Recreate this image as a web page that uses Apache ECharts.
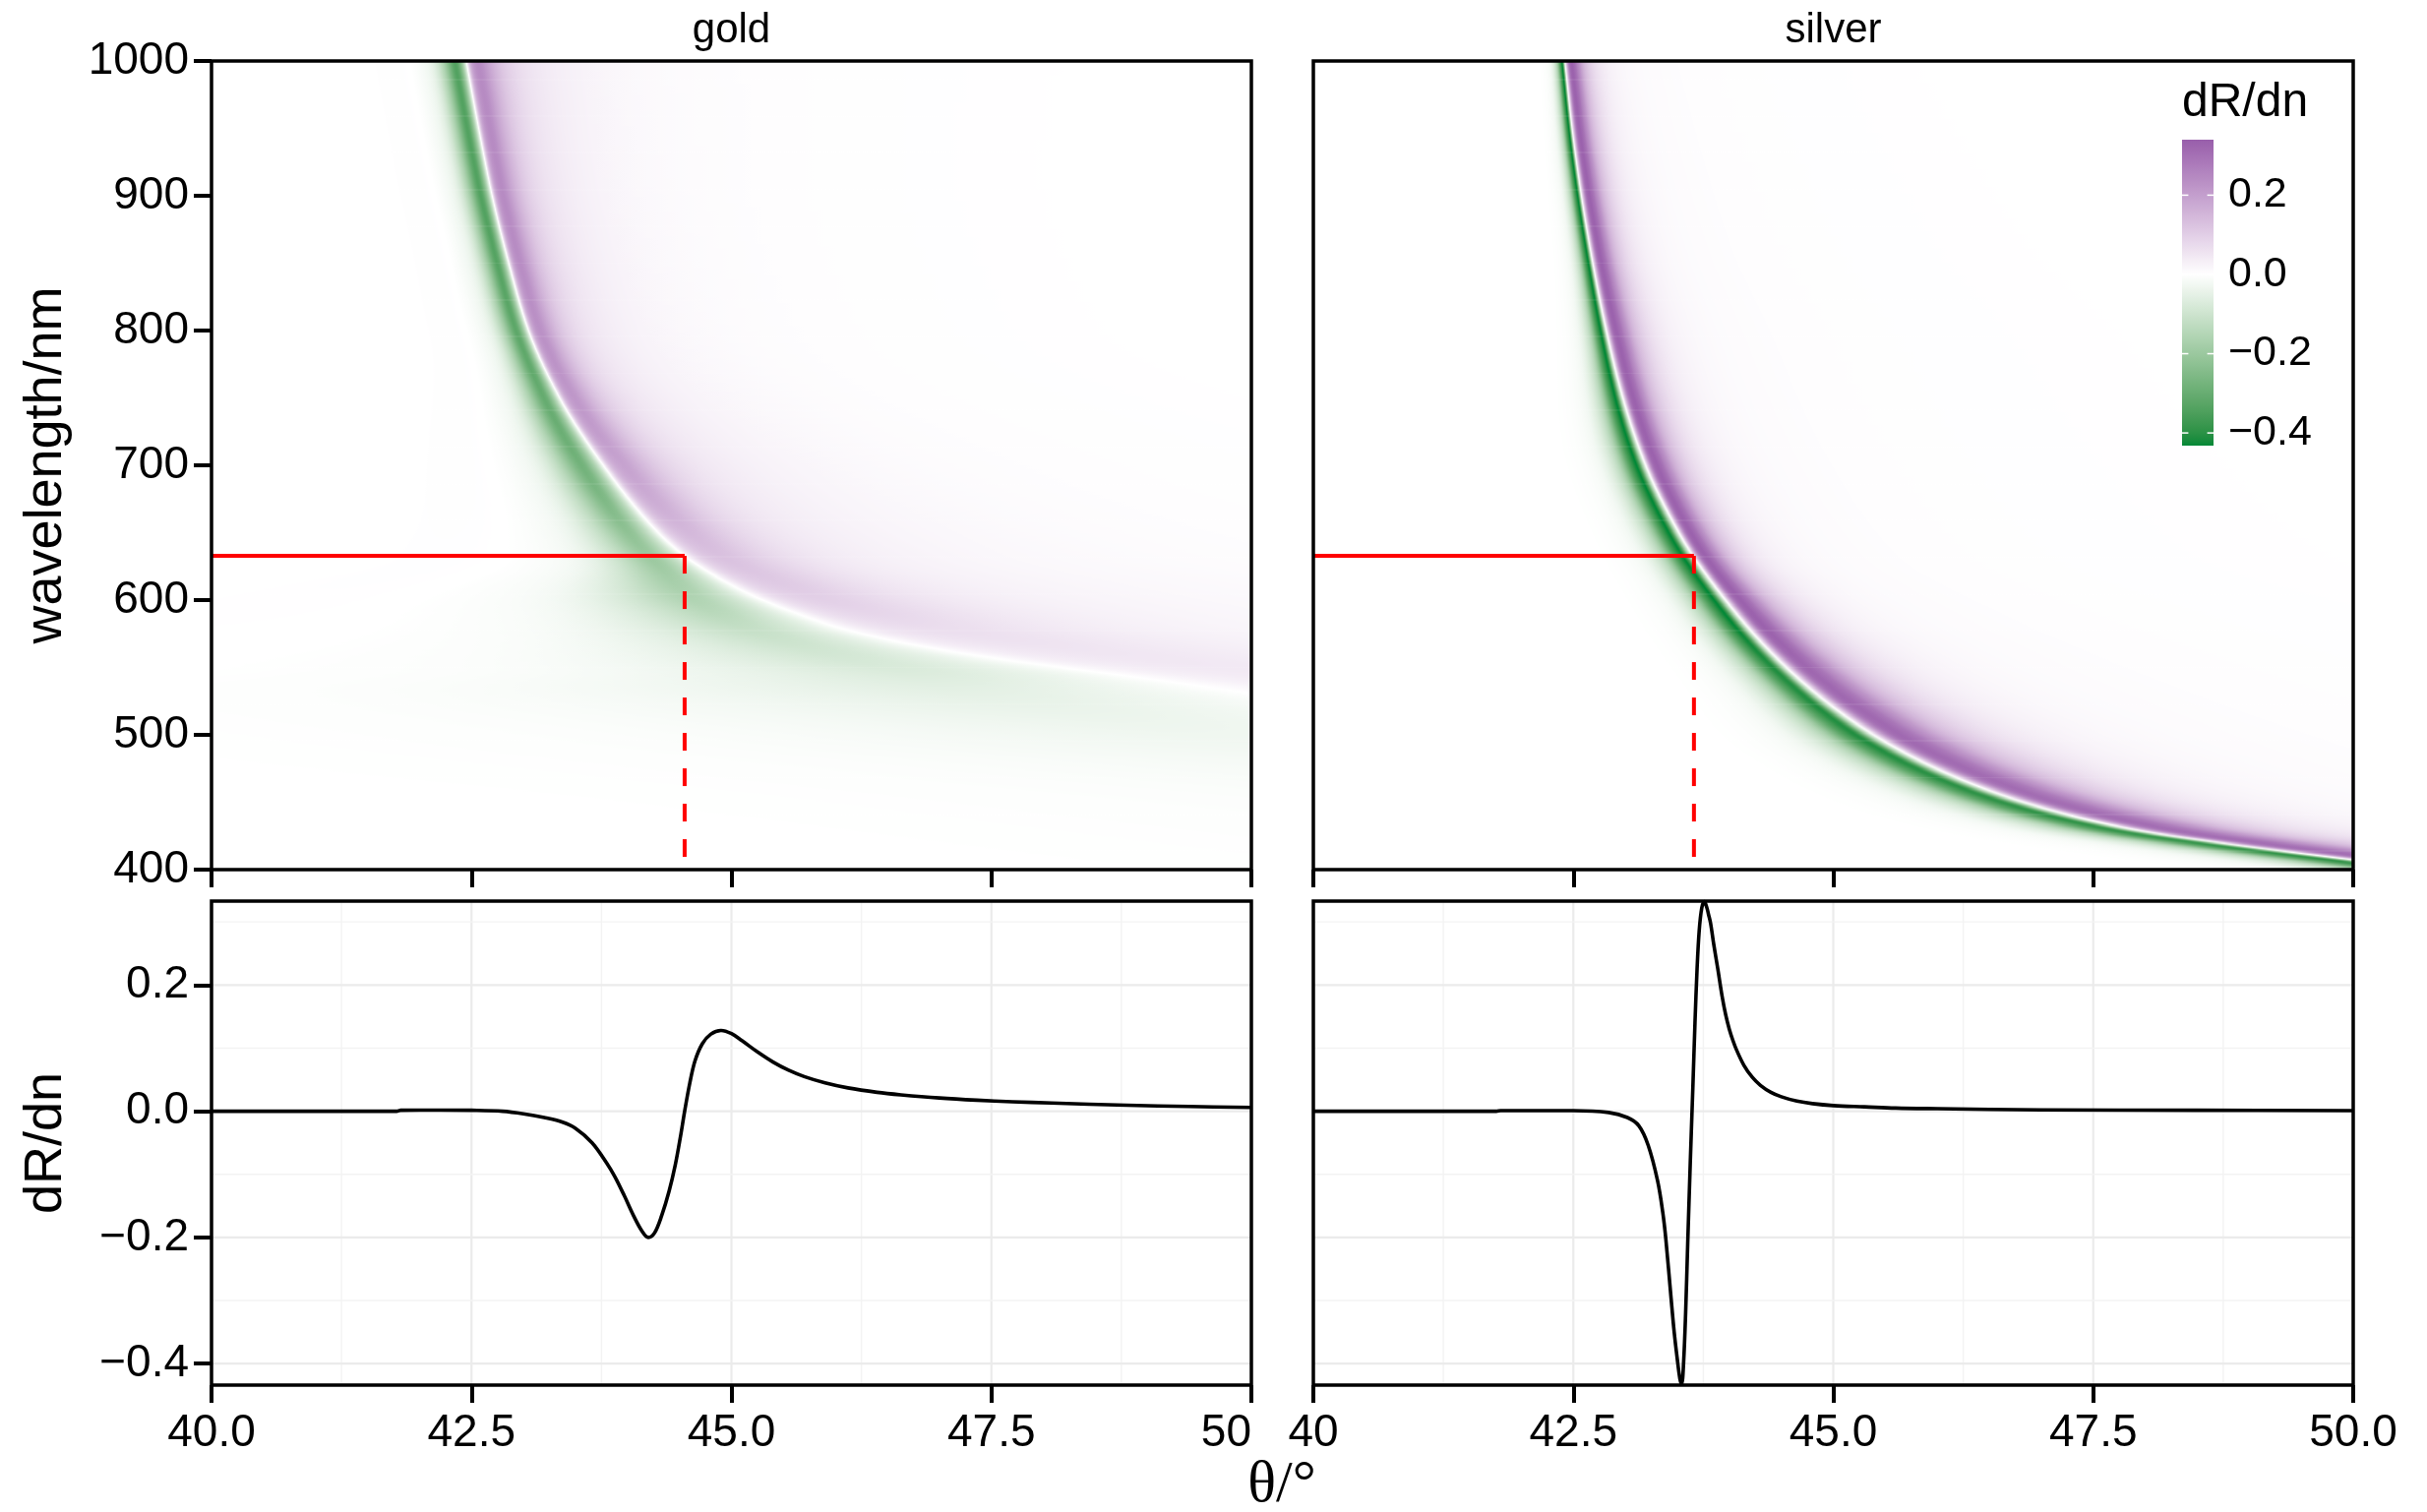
<!DOCTYPE html>
<html>
<head>
<meta charset="utf-8">
<script src="https://cdn.jsdelivr.net/npm/echarts@6/dist/echarts.min.js"></script>
<style>
html, body { margin: 0; padding: 0; background: #ffffff; }
#chart { width: 2467px; height: 1537px; }
</style>
</head>
<body>
<div id="chart"></div>
<script>
// ===================== values =====================
const panelNames = ['gold', 'silver'];
const thetaTicks = [40, 42.5, 45, 47.5, 50];
const leftThetaLabels = ['40.0', '42.5', '45.0', '47.5', '50'];
const rightThetaLabels = ['40', '42.5', '45.0', '47.5', '50.0'];
const wavelengthTicks = [400, 500, 600, 700, 800, 900, 1000];
const drdnTicks = [-0.4, -0.2, 0.0, 0.2];
const drdnMinorTicks = [-0.3, -0.1, 0.1, 0.3];
const thetaMinorTicks = [41.25, 43.75, 46.25, 48.75];
const thetaRange = [40, 50];
const wavelengthRange = [400, 1000];
const drdnRange = [-0.434, 0.333];      // lower panels
const fillLimits = [-0.432, 0.34];      // colour bar

// laser line (red guides)
const laserWavelength = 632.8;
const goldLaserAngle = 44.55;
const silverLaserAngle = 43.66;

// lower panels: dR/dn versus angle at 633 nm
const goldTheta = [40.0, 40.5, 41.0, 41.5, 41.78, 41.82, 42.2, 42.5, 42.8, 43.0, 43.2, 43.37, 43.5, 43.66, 43.8, 43.88, 43.97, 44.06, 44.14, 44.2, 44.26, 44.33, 44.4, 44.46, 44.51, 44.55, 44.6, 44.65, 44.72, 44.8, 44.9, 45.0, 45.1, 45.25, 45.4, 45.55, 45.7, 45.9, 46.12, 46.4, 46.63, 47.0, 47.36, 47.7, 48.08, 48.8, 49.4, 50.0];
const goldDRdn = [0, 0, 0, 0, 0, 0.0015, 0.0018, 0.0015, 0.0, -0.004, -0.01, -0.017, -0.027, -0.05, -0.082, -0.104, -0.134, -0.166, -0.19, -0.2, -0.193, -0.165, -0.127, -0.085, -0.04, 0, 0.045, 0.08, 0.107, 0.122, 0.128, 0.123, 0.112, 0.094, 0.078, 0.065, 0.055, 0.045, 0.037, 0.03, 0.026, 0.021, 0.0175, 0.015, 0.013, 0.0095, 0.0075, 0.006];

const silverTheta = [40.0, 41.0, 41.76, 41.8, 42.5, 42.84, 43.02, 43.13, 43.22, 43.31, 43.36, 43.39, 43.44, 43.47, 43.5, 43.525, 43.542, 43.56, 43.58, 43.6, 43.625, 43.65, 43.67, 43.69, 43.71, 43.735, 43.76, 43.785, 43.8, 43.82, 43.85, 43.89, 43.93, 43.965, 44.0, 44.035, 44.07, 44.14, 44.22, 44.3, 44.4, 44.5, 44.65, 44.8, 45.0, 45.3, 45.6, 46.0, 47.0, 48.5, 50.0];
const silverDRdn = [0, 0, 0, 0.001, 0.001, -0.002, -0.01, -0.023, -0.054, -0.11, -0.16, -0.203, -0.296, -0.35, -0.393, -0.424, -0.432, -0.4, -0.32, -0.21, -0.08, 0.04, 0.14, 0.225, 0.285, 0.322, 0.332, 0.322, 0.312, 0.298, 0.265, 0.225, 0.183, 0.153, 0.13, 0.112, 0.097, 0.073, 0.054, 0.041, 0.03, 0.023, 0.016, 0.012, 0.009, 0.007, 0.005, 0.004, 0.002, 0.0015, 0.001];

// upper panels: angle of the white zero line (resonance) per wavelength
// (entries past 50 degrees are estimates of where the line continues off the frame)
const goldLineWl    = [400, 450, 500, 520, 531, 538, 544, 550, 556, 563, 571, 580, 590, 603, 617, 633, 650, 700, 750, 800, 850, 900, 950, 1000];
const goldLineTheta = [63.0, 58.0, 53.0, 51.0, 50.0, 49.35, 48.8, 48.2, 47.62, 47.05, 46.5, 46.02, 45.64, 45.22, 44.87, 44.55, 44.3, 43.77, 43.35, 43.05, 42.86, 42.7, 42.57, 42.45];
const silverLineWl    = [400, 410, 420, 430, 450, 470, 490, 510, 540, 570, 600, 633, 650, 700, 750, 800, 850, 900, 950, 1000];
const silverLineTheta = [50.8, 49.75, 48.75, 47.9, 46.85, 46.15, 45.62, 45.2, 44.7, 44.3, 43.97, 43.655, 43.52, 43.2, 42.98, 42.82, 42.69, 42.58, 42.49, 42.42];

// upper panels: band width and strength per wavelength, relative to the 633 nm slice
const goldBandWl       = [400, 450, 500, 530, 550, 575, 600, 633, 700, 800, 900, 1000];
const goldGreenWidth   = [14, 12, 10, 8, 5, 2.9, 1.95, 1, 0.62, 0.35, 0.32, 0.32];
const goldPurpleWidth  = [14, 12, 10, 7, 4.5, 2.8, 1.7, 1, 0.55, 0.32, 0.3, 0.32];
const goldGreenAmp     = [0.03, 0.06, 0.15, 0.25, 0.38, 0.55, 0.78, 1.0, 1.4, 1.6, 1.7, 1.7];
const goldPurpleAmp    = [0.1, 0.15, 0.2, 0.3, 0.35, 0.5, 0.75, 1.0, 1.5, 1.8, 1.9, 1.9];
const silverBandWl      = [400, 420, 460, 500, 540, 590, 633, 710, 800, 856, 930, 1000];
const silverGreenWidth  = [2.6, 2.4, 2.0, 1.7, 1.35, 1.12, 1.0, 0.85, 0.55, 0.42, 0.34, 0.28];
const silverPurpleWidth = [3.4, 3.2, 2.6, 2.2, 1.8, 1.3, 1.0, 0.9, 0.8, 0.7, 0.62, 0.55];
const silverGreenAmp    = [0.9, 0.9, 0.92, 0.95, 0.95, 1.0, 1.0, 1.0, 1.0, 1.0, 1.0, 1.0];
const silverPurpleAmp   = [0.92, 0.92, 0.93, 0.95, 0.96, 1.0, 1.0, 1.0, 1.0, 1.0, 1.0, 1.0];

// colours
const lowColour = '#008837', midColour = '#ffffff', highColour = '#7b3294';
const guideColour = '#ff0000';

// ===================== helpers =====================
const FONT = '"Liberation Sans", Arial, Helvetica, sans-serif';
const SERIF = '"Liberation Serif", "DejaVu Serif", serif';

function pchip(xs, ys) {
  const n = xs.length, h = [], d = [], m = new Array(n);
  for (let i = 0; i < n - 1; i++) { h[i] = xs[i + 1] - xs[i]; d[i] = (ys[i + 1] - ys[i]) / h[i]; }
  m[0] = d[0]; m[n - 1] = d[n - 2];
  for (let i = 1; i < n - 1; i++) {
    if (d[i - 1] * d[i] <= 0) m[i] = 0;
    else { const w1 = 2 * h[i] + h[i - 1], w2 = h[i] + 2 * h[i - 1]; m[i] = (w1 + w2) / (w1 / d[i - 1] + w2 / d[i]); }
  }
  return function (x) {
    if (x <= xs[0]) return ys[0];
    if (x >= xs[n - 1]) return ys[n - 1];
    let lo = 0, hi = n - 1;
    while (hi - lo > 1) { const mid = (lo + hi) >> 1; if (xs[mid] <= x) lo = mid; else hi = mid; }
    const i = lo, t = (x - xs[i]) / h[i], t2 = t * t, t3 = t2 * t;
    return (2 * t3 - 3 * t2 + 1) * ys[i] + (t3 - 2 * t2 + t) * h[i] * m[i] + (-2 * t3 + 3 * t2) * ys[i + 1] + (t3 - t2) * h[i] * m[i + 1];
  };
}

function hexToRgb(hx) { return [parseInt(hx.slice(1, 3), 16), parseInt(hx.slice(3, 5), 16), parseInt(hx.slice(5, 7), 16)]; }
function rgbToLab(rgb) {
  const [r, g, b] = rgb.map(c => { c /= 255; return c <= 0.04045 ? c / 12.92 : Math.pow((c + 0.055) / 1.055, 2.4); });
  const X = (0.4124564 * r + 0.3575761 * g + 0.1804375 * b) / 0.95047;
  const Y = (0.2126729 * r + 0.7151522 * g + 0.0721750 * b);
  const Z = (0.0193339 * r + 0.1191920 * g + 0.9503041 * b) / 1.08883;
  const f = t => t > 216 / 24389 ? Math.cbrt(t) : (24389 / 27 * t + 16) / 116;
  const fx = f(X), fy = f(Y), fz = f(Z);
  return [116 * fy - 16, 500 * (fx - fy), 200 * (fy - fz)];
}
function labToRgb(lab) {
  const [L, a, b] = lab;
  const fy = (L + 16) / 116, fx = fy + a / 500, fz = fy - b / 200;
  const finv = t => { const t3 = t * t * t; return t3 > 216 / 24389 ? t3 : (116 * t - 16) / (24389 / 27); };
  const X = finv(fx) * 0.95047, Y = finv(fy), Z = finv(fz) * 1.08883;
  const r = 3.2404542 * X - 1.5371385 * Y - 0.4985314 * Z;
  const g = -0.9692660 * X + 1.8760108 * Y + 0.0415560 * Z;
  const bb = 0.0556434 * X - 0.2040259 * Y + 1.0572252 * Z;
  const comp = c => { c = c <= 0.0031308 ? 12.92 * c : 1.055 * Math.pow(c, 1 / 2.4) - 0.055; return Math.round(Math.min(1, Math.max(0, c)) * 255); };
  return [comp(r), comp(g), comp(bb)];
}

// diverging scale, white at zero (rescaled by the larger limit)
const colourLimit = Math.max(Math.abs(fillLimits[0]), Math.abs(fillLimits[1]));
const LUT_N = 2000;
const colourLut = (function () {
  const labLow = rgbToLab(hexToRgb(lowColour)), labMid = rgbToLab(hexToRgb(midColour)), labHigh = rgbToLab(hexToRgb(highColour));
  const out = [];
  for (let i = 0; i <= LUT_N; i++) {
    const v = -colourLimit + 2 * colourLimit * i / LUT_N;
    const t = Math.abs(v) / colourLimit, end = v < 0 ? labLow : labHigh;
    const rgb = labToRgb([0, 1, 2].map(k => labMid[k] + (end[k] - labMid[k]) * t));
    out.push('rgb(' + rgb[0] + ',' + rgb[1] + ',' + rgb[2] + ')');
  }
  return out;
})();
function colourOf(v) {
  let i = Math.round((v + colourLimit) / (2 * colourLimit) * LUT_N);
  if (i < 0) i = 0; if (i > LUT_N) i = LUT_N;
  return colourLut[i];
}

// map panel: the 633 nm slice shifted to the resonance line and scaled per wavelength
function makePanel(spec) {
  const slice = pchip(spec.sliceTheta, spec.sliceValue);
  const n = spec.sliceValue.length;
  const lastVal = spec.sliceValue[n - 1], lastTheta = spec.sliceTheta[n - 1];
  const template = x => {
    if (x <= thetaRange[0]) return 0;
    if (x >= lastTheta) { const q = (lastTheta - spec.theta0) / (x - spec.theta0); return lastVal * q * q; }
    return slice(x);
  };
  const res = pchip(spec.lineWl, spec.lineTheta);
  const wg = pchip(spec.bandWl, spec.greenWidth), wp = pchip(spec.bandWl, spec.purpleWidth);
  const ag = pchip(spec.bandWl, spec.greenAmp), ap = pchip(spec.bandWl, spec.purpleAmp);
  const dense = [];
  for (let o = spec.denseFrom; o <= spec.denseTo + 1e-9; o += spec.denseStep) dense.push(o);
  return {
    stops(wl) {
      const r = res(wl), g = wg(wl), p = wp(wl), A = ag(wl), B = ap(wl);
      const pts = [];
      for (let i = 0; i <= 100; i++) pts.push(thetaRange[0] + i * (thetaRange[1] - thetaRange[0]) / 100);
      for (const o of dense) {
        const th = r + (o < 0 ? o * g : o * p);
        if (th > thetaRange[0] && th < thetaRange[1]) pts.push(th);
      }
      pts.sort((a, b) => a - b);
      const stops = []; let last = -1;
      const span = thetaRange[1] - thetaRange[0];
      for (const th of pts) {
        const off = (th - thetaRange[0]) / span;
        if (off - last < 2e-5) continue;
        last = off;
        const u = th - r;
        const v = u < 0 ? template(spec.theta0 + u / g) * A : template(spec.theta0 + u / p) * B;
        stops.push({ offset: off, color: colourOf(v) });
      }
      return stops;
    }
  };
}

const goldPanel = makePanel({
  sliceTheta: goldTheta, sliceValue: goldDRdn, theta0: goldLaserAngle,
  lineWl: goldLineWl, lineTheta: goldLineTheta,
  bandWl: goldBandWl, greenWidth: goldGreenWidth, purpleWidth: goldPurpleWidth, greenAmp: goldGreenAmp, purpleAmp: goldPurpleAmp,
  denseFrom: -3, denseTo: 3.5, denseStep: 0.025
});
const silverPanel = makePanel({
  sliceTheta: silverTheta, sliceValue: silverDRdn, theta0: 43.645,
  lineWl: silverLineWl, lineTheta: silverLineTheta,
  bandWl: silverBandWl, greenWidth: silverGreenWidth, purpleWidth: silverPurpleWidth, greenAmp: silverGreenAmp, purpleAmp: silverPurpleAmp,
  denseFrom: -1.2, denseTo: 2.0, denseStep: 0.008
});

// evaluation rows for the maps
const rowStep = 0.75;
const mapRows = [];
for (let w = wavelengthRange[0] + rowStep / 2; w < wavelengthRange[1]; w += rowStep) mapRows.push([thetaRange[0], w]);

function mapSeries(panel, idx) {
  return {
    type: 'custom', xAxisIndex: idx, yAxisIndex: idx, silent: true, clip: true, z: 1,
    progressive: 0, animation: false,
    data: mapRows,
    renderItem: function (params, api) {
      const wl = api.value(1);
      const a = api.coord([thetaRange[0], wl + rowStep / 2]);
      const b = api.coord([thetaRange[1], wl - rowStep / 2]);
      return {
        type: 'rect', silent: true,
        shape: { x: a[0], y: a[1] - 0.35, width: b[0] - a[0], height: b[1] - a[1] + 0.7 },
        style: { fill: { type: 'linear', x: 0, y: 0, x2: 1, y2: 0, colorStops: panel.stops(wl) } }
      };
    }
  };
}

function guideSeries(idx, angle) {
  return [
    { type: 'line', xAxisIndex: idx, yAxisIndex: idx, silent: true, symbol: 'none', z: 5, animation: false,
      data: [[thetaRange[0], laserWavelength], [angle, laserWavelength]],
      lineStyle: { color: guideColour, width: 4, cap: 'butt' } },
    { type: 'line', xAxisIndex: idx, yAxisIndex: idx, silent: true, symbol: 'none', z: 5, animation: false,
      data: [[angle, laserWavelength], [angle, wavelengthRange[0]]],
      lineStyle: { color: guideColour, width: 4, type: [18, 18], cap: 'butt' } }
  ];
}

// light grid of the lower panels
const gridItems = [];
thetaTicks.slice(1, -1).forEach(v => gridItems.push([v, 0, 0]));
thetaMinorTicks.forEach(v => gridItems.push([v, 0, 1]));
drdnTicks.forEach(v => gridItems.push([45, v, 2]));
drdnMinorTicks.forEach(v => gridItems.push([45, v, 3]));
function gridSeries(idx) {
  return {
    type: 'custom', xAxisIndex: idx, yAxisIndex: idx, silent: true, z: 1, animation: false,
    data: gridItems,
    renderItem: function (params, api) {
      const kind = api.value(2);
      let a, b;
      if (kind < 2) { a = api.coord([api.value(0), drdnRange[0]]); b = api.coord([api.value(0), drdnRange[1]]); }
      else { a = api.coord([thetaRange[0], api.value(1)]); b = api.coord([thetaRange[1], api.value(1)]); }
      const major = (kind === 0 || kind === 2);
      return { type: 'line', silent: true, shape: { x1: a[0], y1: a[1], x2: b[0], y2: b[1] },
        style: { stroke: major ? '#ebebeb' : '#f3f3f3', lineWidth: major ? 2.2 : 1.4 } };
    }
  };
}

function curveSeries(idx, th, val) {
  return { type: 'line', xAxisIndex: idx, yAxisIndex: idx, silent: true, symbol: 'none', z: 4, animation: false,
    smooth: 0.35, clip: true,
    data: th.map((t, i) => [t, val[i]]),
    lineStyle: { color: '#000000', width: 3.6, join: 'round' } };
}

// colour bar
const cbStops = [];
for (let i = 0; i <= 100; i++) {
  const v = fillLimits[1] - (fillLimits[1] - fillLimits[0]) * i / 100;
  cbStops.push({ offset: i / 100, color: colourOf(v) });
}

const fmtSigned = v => (v < -1e-9 ? '\u2212' + Math.abs(v).toFixed(1) : Math.abs(v).toFixed(1));
const labelFor = (labels) => (v => { const k = thetaTicks.findIndex(t => Math.abs(t - v) < 1e-6); return k < 0 ? '' : labels[k]; });

const tickStyle = { show: true, inside: false, length: 18, lineStyle: { color: '#000', width: 4 } };
const noLine = { show: false, onZero: false };
const TICK_FONT = 46;

function thetaAxis(gridIndex, labels, extra) {
  return Object.assign({
    type: 'value', gridIndex: gridIndex, min: thetaRange[0], max: thetaRange[1], interval: 2.5,
    axisLine: noLine, splitLine: { show: false }, axisTick: tickStyle,
    axisLabel: labels ? { show: true, margin: 26, fontSize: TICK_FONT, color: '#000', fontFamily: FONT, lineHeight: TICK_FONT,
      formatter: labelFor(labels), showMinLabel: true, showMaxLabel: true, hideOverlap: false } : { show: false }
  }, extra || {});
}

const gridBorder = { show: true, z: 10, borderColor: '#000', borderWidth: 3.5, backgroundColor: 'rgba(0,0,0,0)', outerBoundsMode: 'none', containLabel: false };

const option = {
  animation: false,
  backgroundColor: '#ffffff',
  textStyle: { fontFamily: FONT },
  grid: [
    Object.assign({ left: 215, top: 62, width: 1057, height: 822 }, gridBorder),
    Object.assign({ left: 1335, top: 62, width: 1057, height: 822 }, gridBorder),
    Object.assign({ left: 215, top: 916, width: 1057, height: 492 }, gridBorder),
    Object.assign({ left: 1335, top: 916, width: 1057, height: 492 }, gridBorder),
    { left: 2218, top: 142, width: 32, height: 311, show: false, outerBoundsMode: 'none', containLabel: false }
  ],
  xAxis: [
    thetaAxis(0, null),
    thetaAxis(1, null),
    (function () { const ax = thetaAxis(2, leftThetaLabels); ax.axisLabel.alignMaxLabel = 'right'; return ax; })(),
    thetaAxis(3, rightThetaLabels),
    { type: 'value', gridIndex: 4, min: 0, max: 1, show: false }
  ],
  yAxis: [
    { type: 'value', gridIndex: 0, min: wavelengthRange[0], max: wavelengthRange[1], interval: 100,
      axisLine: noLine, splitLine: { show: false }, axisTick: tickStyle,
      axisLabel: { show: true, margin: 23, fontSize: TICK_FONT, color: '#000', fontFamily: FONT, showMinLabel: true, showMaxLabel: true,
        formatter: v => String(Math.round(v)) } },
    { type: 'value', gridIndex: 1, min: wavelengthRange[0], max: wavelengthRange[1], interval: 100,
      axisLine: noLine, splitLine: { show: false }, axisTick: { show: false }, axisLabel: { show: false } },
    { type: 'value', gridIndex: 2, min: drdnRange[0], max: drdnRange[1],
      axisLine: noLine, splitLine: { show: false },
      axisTick: Object.assign({ customValues: drdnTicks }, tickStyle),
      axisLabel: { show: true, customValues: drdnTicks, formatter: fmtSigned, margin: 23, fontSize: TICK_FONT, color: '#000', fontFamily: FONT } },
    { type: 'value', gridIndex: 3, min: drdnRange[0], max: drdnRange[1],
      axisLine: noLine, splitLine: { show: false }, axisTick: { show: false }, axisLabel: { show: false } },
    { type: 'value', gridIndex: 4, min: fillLimits[0], max: fillLimits[1], position: 'right', z: 30,
      axisLine: noLine, splitLine: { show: false }, axisTick: { show: false },
      axisLabel: { show: true, customValues: drdnTicks, formatter: fmtSigned, margin: 15, fontSize: 43, color: '#000', fontFamily: FONT } }
  ],
  series: [
    mapSeries(goldPanel, 0),
    mapSeries(silverPanel, 1),
    ...guideSeries(0, goldLaserAngle),
    ...guideSeries(1, silverLaserAngle),
    gridSeries(2),
    gridSeries(3),
    curveSeries(2, goldTheta, goldDRdn),
    curveSeries(3, silverTheta, silverDRdn),
    { type: 'custom', xAxisIndex: 4, yAxisIndex: 4, silent: true, z: 6, animation: false,
      data: [[0, 0]],
      renderItem: function (params, api) {
        const a = api.coord([0, fillLimits[1]]), b = api.coord([1, fillLimits[0]]);
        return { type: 'rect', shape: { x: a[0], y: a[1], width: b[0] - a[0], height: b[1] - a[1] },
          style: { fill: { type: 'linear', x: 0, y: 0, x2: 0, y2: 1, colorStops: cbStops } } };
      } },
    { type: 'custom', xAxisIndex: 4, yAxisIndex: 4, silent: true, z: 7, animation: false,
      data: drdnTicks.map(v => [0, v]),
      renderItem: function (params, api) {
        const v = api.value(1);
        const a = api.coord([0, v]), b = api.coord([1, v]);
        const len = (b[0] - a[0]) / 5;
        return { type: 'group', children: [
          { type: 'line', shape: { x1: a[0], y1: a[1], x2: a[0] + len, y2: a[1] }, style: { stroke: '#ffffff', lineWidth: 1.5 } },
          { type: 'line', shape: { x1: b[0] - len, y1: b[1], x2: b[0], y2: b[1] }, style: { stroke: '#ffffff', lineWidth: 1.5 } }
        ] };
      } }
  ],
  graphic: [
    { type: 'text', x: 743.5, y: 31, silent: true, z: 30,
      style: { text: panelNames[0], fontSize: 42, fontFamily: FONT, fill: '#000', align: 'center', verticalAlign: 'middle', textAlign: 'center', textVerticalAlign: 'middle' } },
    { type: 'text', x: 1863.5, y: 31, silent: true, z: 30,
      style: { text: panelNames[1], fontSize: 42, fontFamily: FONT, fill: '#000', align: 'center', verticalAlign: 'middle', textAlign: 'center', textVerticalAlign: 'middle' } },
    { type: 'text', x: 47, y: 473, rotation: Math.PI / 2, silent: true, z: 30,
      style: { text: 'wavelength/nm', fontSize: 54, fontFamily: FONT, fill: '#000', align: 'center', verticalAlign: 'middle', textAlign: 'center', textVerticalAlign: 'middle' } },
    { type: 'text', x: 47, y: 1162, rotation: Math.PI / 2, silent: true, z: 30,
      style: { text: 'dR/dn', fontSize: 54, fontFamily: FONT, fill: '#000', align: 'center', verticalAlign: 'middle', textAlign: 'center', textVerticalAlign: 'middle' } },
    { type: 'text', x: 1303, y: 1510, silent: true, z: 30,
      style: { text: '\u03b8/\u00b0', fontSize: 60, fontFamily: SERIF, fill: '#000', align: 'center', verticalAlign: 'middle', textAlign: 'center', textVerticalAlign: 'middle' } },
    { type: 'text', x: 2218, y: 105, silent: true, z: 30,
      style: { text: 'dR/dn', fontSize: 48, fontFamily: FONT, fill: '#000', align: 'left', verticalAlign: 'middle', textAlign: 'left', textVerticalAlign: 'middle' } }
  ]
};

const chart = echarts.init(document.getElementById('chart'), null, { renderer: 'canvas', width: 2467, height: 1537 });
chart.setOption(option);
</script>
</body>
</html>
